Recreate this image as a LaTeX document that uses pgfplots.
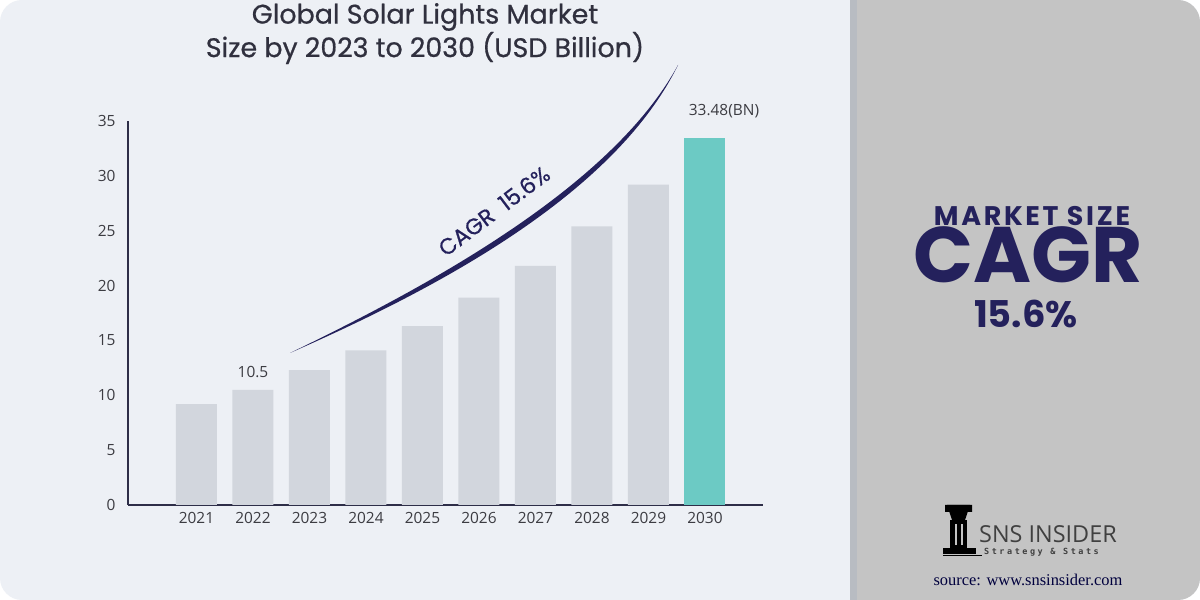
\documentclass[border=0pt]{standalone}
\usepackage{pgfplots}
\pgfplotsset{compat=1.18}
\usepackage{fontspec}
\setmainfont{Open Sans}
\newfontfamily\popf{Poppins}
\newfontfamily\popm{Poppins}[FakeBold=0.6]
\newfontfamily\serf{Liberation Serif}
\newfontfamily\spaced{DejaVu Sans Mono}[LetterSpace=30]
\definecolor{bgc}{RGB}{237,240,245}
\definecolor{panelc}{RGB}{196,196,196}
\definecolor{stripc}{RGB}{184,188,194}
\definecolor{barc}{RGB}{210,214,221}
\definecolor{tealc}{RGB}{108,202,196}
\definecolor{navy}{RGB}{36,33,92}
\definecolor{axisc}{RGB}{46,46,72}
\definecolor{tickc}{RGB}{60,60,66}
\definecolor{titlec}{RGB}{48,48,62}
\begin{document}
\begin{tikzpicture}
\begin{scope}[x=1bp,y=1bp]
\path[use as bounding box] (0,0) rectangle (1200,600);
\fill[white] (0,0) rectangle (1200,600);
\begin{scope}
\clip[rounded corners=22bp] (0,0) rectangle (1200,600);
\fill[bgc] (0,0) rectangle (1200,600);
\fill[panelc] (850,0) rectangle (1200,600);
\fill[stripc] (850,0) rectangle (857,600);
\end{scope}
% title
\node[font=\popm\fontsize{27}{27}\selectfont, text=titlec] at (425,583) {Global Solar Lights Market};
\node[font=\popm\fontsize{27}{27}\selectfont, text=titlec] at (425,552) {Size by 2023 to 2030 (USD Billion)};
\end{scope}
\begin{axis}[
  at={(128bp,95bp)}, anchor=south west,
  scale only axis, width=635bp, height=384bp,
  xmin=-1.212, xmax=10.027, ymin=0, ymax=35,
  axis x line*=bottom, axis y line*=left,
  axis line style={-, draw=axisc, line width=1.8bp},
  major tick length=0pt,
  xtick={0,...,9},
  xticklabels={2021,2022,2023,2024,2025,2026,2027,2028,2029,2030},
  ytick={0,5,...,35},
  /pgf/number format/assume math mode=true,
  tick label style={font=\fontsize{15.5}{15.5}\selectfont, text=tickc},
  yticklabel style={xshift=-9bp},
  xticklabel style={yshift=-4bp},
  clip=false,
]
\addplot[ybar, bar shift=0pt, bar width=41bp, fill=barc, draw=none]
  coordinates {(0,9.2) (1,10.5) (2,12.3) (3,14.1) (4,16.3) (5,18.9) (6,21.8) (7,25.4) (8,29.2)};
\addplot[ybar, bar shift=0pt, bar width=41bp, fill=tealc, draw=none]
  coordinates {(9,33.48)};
\node[anchor=south, inner sep=0pt, yshift=12bp, font=\fontsize{15.5}{15.5}\selectfont, text=tickc] at (axis cs:1,10.5) {10.5};
\node[anchor=south, inner sep=0pt, yshift=20bp, font=\fontsize{15.5}{15.5}\selectfont, text=tickc] at (axis cs:9.336,33.48) {33.48(BN)};
\end{axis}
\begin{scope}[x=1bp,y=1bp]
% CAGR swoosh
\fill[navy] (290,247) .. controls (420,310) and (610,410) .. (678,535)
  .. controls (612,400) and (422,305) .. (290,247) -- cycle;
\node[rotate=37, font=\popm\fontsize{22.5}{22.5}\selectfont, text=navy] at (494,389) {CAGR\ \ 15.6\%};
% right panel
\node[anchor=base, inner sep=0pt, font=\popf\bfseries\fontsize{27}{27}\selectfont\addfontfeature{LetterSpace=10}, text=navy] at (1032,374) {MARKET SIZE};
\node[anchor=base, inner sep=0pt, font=\popf\bfseries\fontsize{79}{79}\selectfont, text=navy] at (1028,317) {CAGR};
\node[anchor=base, inner sep=0pt, font=\popf\bfseries\fontsize{37}{37}\selectfont, text=navy] at (1026,272) {15.6\%};
% logo
\fill[black] (945,95) -- (972,95) -- (972,88) -- (966,88) -- (966,91) -- (961,91) -- (961,86) -- (956,86) -- (956,91) -- (951,91) -- (951,88) -- (945,88) -- cycle;
\fill[black] (947,95) -- (970,95) -- (965,80) -- (952,80) -- cycle;
\fill[black] (950,80) rectangle (967,52);
\fill[panelc] (955,76) rectangle (957,55);
\fill[panelc] (961,76) rectangle (963,55);
\fill[black] (943,52) rectangle (976,46);
\fill[black] (943,45) rectangle (982,44);
\node[anchor=base west, inner sep=0pt, font=\fontsize{23.5}{23.5}\selectfont, text=black!75] at (979,57) {SNS INSIDER};
\node[anchor=west, inner sep=0pt, font=\spaced\bfseries\fontsize{8.5}{8.5}\selectfont, text=black!75] at (984,48) {Strategy \& Stats};
\node[inner sep=0pt, font=\serf\fontsize{16.5}{16.5}\selectfont, text=black!70!blue!80!black] at (1028,20) {source: www.snsinsider.com};
\end{scope}
\end{tikzpicture}
\end{document}
